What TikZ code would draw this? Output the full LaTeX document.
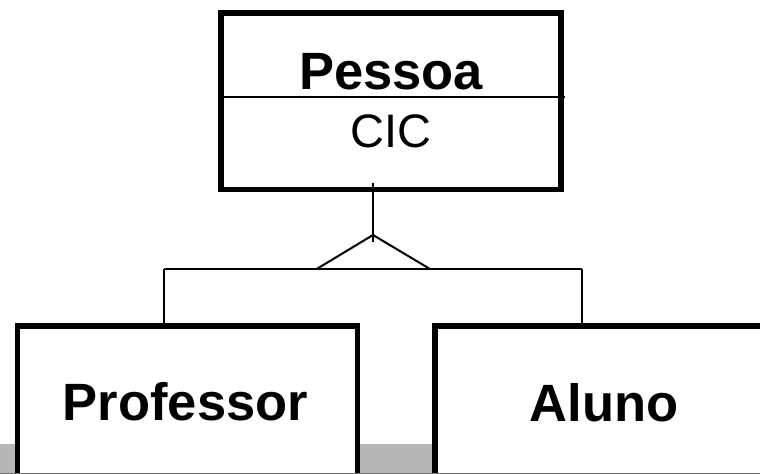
\documentclass[tikz,border=0pt]{standalone}
\usepackage{fontspec}
\setmainfont{Liberation Sans}
\usetikzlibrary{calc}
\definecolor{bandgray}{RGB}{182,182,182}
\definecolor{edgegray}{RGB}{112,112,112}
\begin{document}
\begin{tikzpicture}[x=1bp,y=-1bp,
  entity/.style={draw=black, fill=white, line width=5.5bp, rectangle,
    inner sep=0pt, outer sep=0pt, anchor=north west},
  link/.style={draw=black, line width=2bp},
  title/.style={font=\fontsize{52.5bp}{60bp}\selectfont\bfseries,
    anchor=base, inner sep=0pt},
  attr/.style={font=\fontsize{47bp}{54bp}\selectfont,
    anchor=base, inner sep=0pt}]
\useasboundingbox (0,0) rectangle (760,474);
\clip (0,0) rectangle (760,474);
\fill[white] (0,0) rectangle (760,474);
% footer band
\fill[bandgray] (0,444) rectangle (760,474);

% entities
\node[entity, minimum width=340bp, minimum height=176.7bp] (pessoa) at (221,12.8) {};
\node[entity, minimum width=340bp, minimum height=200bp] (prof) at (17.5,326) {};
\node[entity, minimum width=400bp, minimum height=200bp] (aluno) at (435,326) {};

% attribute divider
\coordinate (divR) at (565,97.3);
\draw[link] (pessoa.west |- divR) -- (divR);

% labels
\node[title] (pessoaLbl) at (391,90) {Pessoa};
\node[attr] (cic) at (391,147.5) {CIC};
\node[title] (profLbl) at (185.5,420) {Professor};
\node[title] (alunoLbl) at (604,421) {Aluno};

% generalization symbol
\coordinate (apex) at (373,235);
\coordinate (tick) at (373,242);
\coordinate (baseL) at (316.7,269);
\coordinate (baseR) at (430,269);
\coordinate (barL) at (164,269);
\coordinate (barR) at (582,269);
\draw[link] ($(pessoa.south -| apex)+(0,-6)$) -- (tick);
\draw[link] (baseL) -- (apex) -- (baseR);
\draw[link] (barL) -- (barR);
\draw[link] (barL) -- (prof.north -| barL);
\draw[link] (barR) -- (aluno.north -| barR);

% bottom edge
\draw[edgegray, line width=1bp] (0,473.5) -- (760,473.5);
\end{tikzpicture}
\end{document}
